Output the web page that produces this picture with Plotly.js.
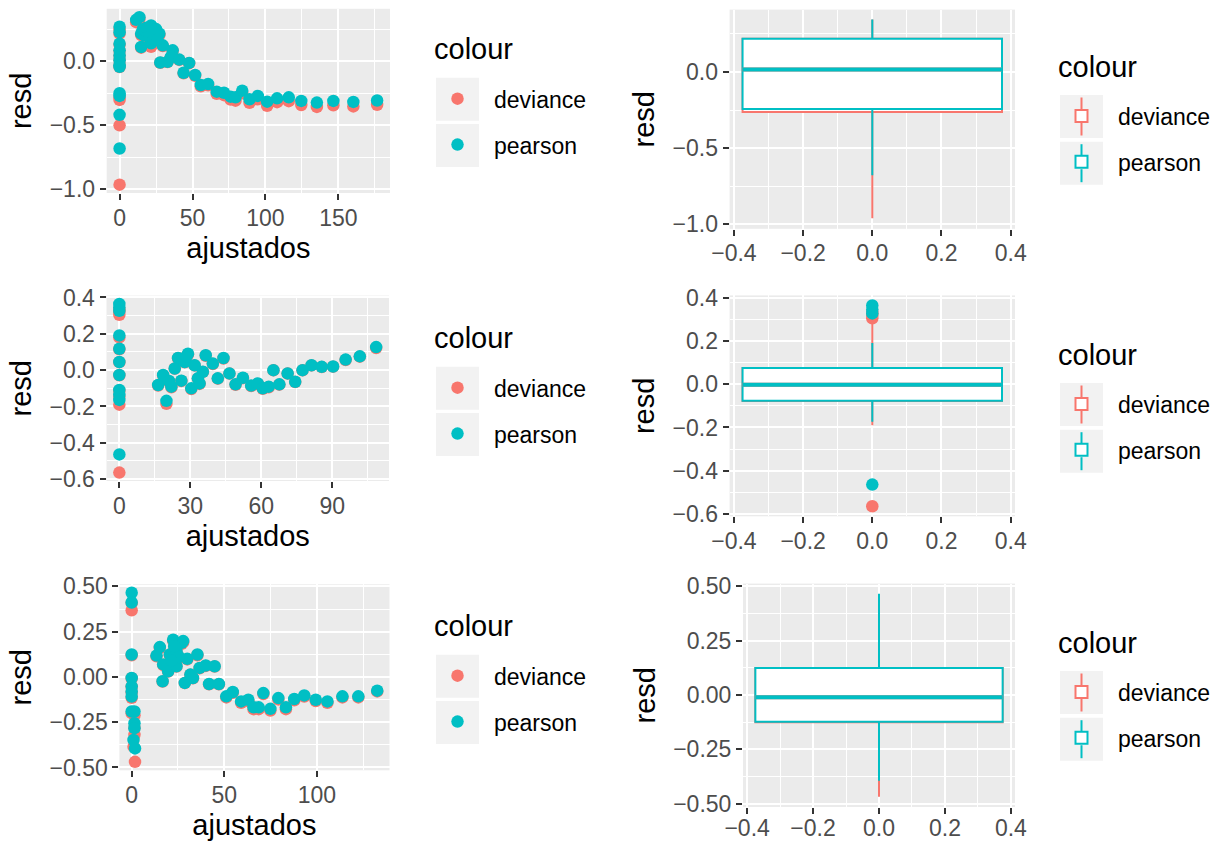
<!DOCTYPE html>
<html><head><meta charset="utf-8">
<script src="https://cdn.plot.ly/plotly-3.0.1.min.js"></script>
<style>html,body{margin:0;padding:0;background:#fff}#chart{width:1220px;height:841px}</style>
</head><body><div id="chart"></div>
<script>
// ---------- DATA ----------
const seriesNames = ['deviance', 'pearson'];
const seriesColors = ['#F8766D', '#00BFC4'];
const legendTitle = 'colour';

// Panel 1 (top): fitted values and residuals
const ajustados1 = [0,0,0,0,0,0,0,0,0,0,0,0, 11.4,13.6,21.6,14.8,17.1,14.8,19.4,21.6,25.0,27.3,29.6,27.9,32.9,36.4,35.2,40.9,47.7,43.9,51.8,55.7,60.7,66.6,71.6,76.1,79.5,84.1,89.1,94.8,101.2,108.0,116.0,124.6,135.3,146.6,160.3,176.6, 16.0,18.3,20.5,23.0,22.5,26.0];
const pearson1 = [0.270,0.227,0.137,0.085,0.045,0.008,-0.031,-0.044,-0.250,-0.271,-0.419,-0.682, 0.323,0.344,0.279,0.215,0.200,0.111,0.229,0.140,0.251,0.215,0.124,-0.010,-0.005,0.085,0.033,0.013,-0.013,-0.090,-0.108,-0.186,-0.178,-0.238,-0.246,-0.277,-0.282,-0.230,-0.297,-0.271,-0.316,-0.290,-0.282,-0.310,-0.323,-0.310,-0.318,-0.307, 0.250,0.262,0.190,0.170,0.232,0.170];
const deviance1 = [0.250,0.215,0.130,0.082,0.044,0.008,-0.032,-0.046,-0.280,-0.302,-0.501,-0.964, 0.305,0.330,0.268,0.205,0.192,0.106,0.220,0.112,0.240,0.205,0.118,-0.012,-0.007,0.080,0.030,0.010,-0.016,-0.095,-0.114,-0.196,-0.188,-0.255,-0.265,-0.300,-0.308,-0.250,-0.325,-0.298,-0.348,-0.320,-0.312,-0.343,-0.357,-0.344,-0.353,-0.341, 0.240,0.252,0.182,0.162,0.222,0.162];

// Panel 2 (middle)
const ajustados2 = [0,0,0,0,0,0,0,0,0,0,0, 16.4,18.5,19.9,22.0,23.4,24.8,26.2,27.6,29.0,30.4,31.8,33.2,33.9,36.5,35.3,39.5,41.6,44.0,46.5,49.1,52.2,55.7,58.5,60.6,63.1,65.1,67.6,71.1,74.3,77.4,81.2,85.5,90.3,95.6,101.6,108.5, 26.8,28.3,21.0];
const pearson2 = [0.364,0.345,0.327,0.191,0.118,0.045,-0.027,-0.109,-0.136,-0.164,-0.464, -0.082,-0.027,-0.169,-0.091,0.009,0.067,-0.058,0.045,0.090,-0.100,0.027,-0.045,-0.073,0.082,-0.009,0.036,-0.045,0.067,-0.018,-0.078,-0.042,-0.085,-0.073,-0.100,-0.091,0.000,-0.078,-0.018,-0.064,0.000,0.027,0.018,0.020,0.058,0.076,0.127, 0.060,0.075,-0.060];
const deviance2 = [0.335,0.320,0.305,0.180,0.115,0.044,-0.028,-0.115,-0.145,-0.190,-0.564, -0.085,-0.029,-0.185,-0.094,0.008,0.065,-0.060,0.043,0.087,-0.104,0.026,-0.047,-0.076,0.079,-0.010,0.034,-0.047,0.064,-0.019,-0.081,-0.044,-0.088,-0.076,-0.103,-0.094,-0.001,-0.080,-0.019,-0.066,-0.001,0.026,0.017,0.019,0.056,0.074,0.122, 0.058,0.073,-0.062];

// Panel 3 (bottom)
const ajustados3 = [0,0,0,0,0,0,0,0,1.5,1.5,1.5,1.0,1.8, 13.4,15.2,17.0,16.7,19.7,20.6,22.4,24.2,24.2,27.0,27.8,28.7,30.0,31.7,33.1,35.5,36.7,40.0,41.8,44.8,47.1,51.1,54.6,59.1,63.0,65.8,68.6,71.1,74.9,79.2,83.3,87.8,93.2,99.4,105.7,113.8,122.4,132.6, 23.0,25.5,21.5];
const pearson3 = [0.465,0.411,0.124,-0.006,-0.052,-0.080,-0.108,-0.191,-0.191,-0.256,-0.283,-0.348,-0.395, 0.118,0.165,0.069,-0.024,0.031,0.124,0.206,0.059,0.142,0.189,0.198,-0.033,0.100,0.013,-0.006,0.124,0.050,0.063,-0.039,0.059,-0.039,-0.107,-0.083,-0.135,-0.126,-0.168,-0.168,-0.089,-0.176,-0.117,-0.168,-0.122,-0.102,-0.126,-0.135,-0.107,-0.107,-0.076, 0.170,0.110,0.090];
const deviance3 = [0.408,0.368,0.120,-0.007,-0.055,-0.085,-0.115,-0.200,-0.212,-0.280,-0.320,-0.385,-0.469, 0.114,0.160,0.066,-0.025,0.030,0.120,0.200,0.057,0.137,0.183,0.192,-0.034,0.097,0.012,-0.007,0.120,0.048,0.061,-0.041,0.057,-0.041,-0.113,-0.088,-0.143,-0.134,-0.178,-0.178,-0.094,-0.186,-0.124,-0.178,-0.129,-0.108,-0.133,-0.143,-0.113,-0.113,-0.080, 0.165,0.106,0.087];

// Boxplot statistics: [deviance, pearson]
const box4_q1 = [-0.263, -0.243], box4_median = [0.016, 0.016], box4_q3 = [0.218, 0.218], box4_lower = [-0.960, -0.678], box4_upper = [0.344, 0.344];
const box5_q1 = [-0.078, -0.076], box5_median = [-0.003, -0.003], box5_q3 = [0.075, 0.075], box5_lower = [-0.190, -0.173], box5_upper = [0.280, 0.191];
const box6_q1 = [-0.126, -0.124], box6_median = [-0.011, -0.011], box6_q3 = [0.123, 0.123], box6_lower = [-0.469, -0.395], box6_upper = [0.408, 0.465];
const box4_outliers = [[], []];
const box5_outliers = [[0.305, 0.320, 0.335, -0.564], [0.327, 0.345, 0.364, -0.464]];
const box6_outliers = [[], []];
const BOX_X = 0, BOX_WIDTH = 0.75;

// ---------- LAYOUT HELPERS ----------
const W = 1220, H = 841;
const FONT = 'Liberation Sans, Arial, Helvetica, sans-serif';
const px = (a, b) => [a / W, b / W];
const py = (top, bottom) => [1 - bottom / H, 1 - top / H];
function expand(arrs, mult) {
  const all = [].concat(...arrs);
  const mn = Math.min(...all), mx = Math.max(...all), s = (mx - mn) * mult;
  return [mn - s, mx + s];
}
const axBase = {
  showline: false, zeroline: false, ticks: 'outside', ticklen: 6, tickwidth: 2, tickcolor: '#333333',
  tickfont: {size: 23, color: '#4D4D4D', family: FONT}, showgrid: true, gridcolor: '#FFFFFF', gridwidth: 2,
  layer: 'below traces', fixedrange: true, automargin: false
};
function axis(domain, range, dtick, fmt, title, anchor, standoff, labelShift) {
  const a = Object.assign({}, axBase, {
    domain: domain, range: range, tickmode: 'linear', tick0: 0, dtick: dtick, anchor: anchor,
    minor: {tickmode: 'linear', tick0: 0, dtick: dtick / 2, showgrid: true, gridcolor: '#FFFFFF', gridwidth: 1, ticks: ''}
  });
  if (labelShift) a.ticklabelstandoff = labelShift;
  if (fmt) a.tickformat = fmt;
  if (title) a.title = {text: title, font: {size: 29, color: '#000000', family: FONT}, standoff: standoff};
  return a;
}

// ---------- TRACES ----------
const traces = [];
function addBoxes(n, q1, med, q3, lo, up, outl) {
  const xa = 'x' + n, ya = 'y' + n;
  seriesNames.forEach((s, i) => {
    traces.push({type: 'box', x: [BOX_X], q1: [q1[i]], median: [med[i]], q3: [q3[i]], lowerfence: [lo[i]], upperfence: [up[i]],
      width: BOX_WIDTH, fillcolor: '#FFFFFF', line: {color: seriesColors[i], width: 2}, whiskerwidth: 0, boxpoints: false,
      name: s, xaxis: xa, yaxis: ya, legend: 'legend' + n, legendgroup: s + n, hoverinfo: 'skip'});
  });
  seriesNames.forEach((s, i) => {
    traces.push({type: 'scatter', mode: 'lines', x: [BOX_X - BOX_WIDTH / 2, BOX_X + BOX_WIDTH / 2], y: [med[i], med[i]],
      line: {color: seriesColors[i], width: 4}, showlegend: false, xaxis: xa, yaxis: ya, hoverinfo: 'skip'});
  });
  seriesNames.forEach((s, i) => {
    if (!outl[i].length) return;
    traces.push({type: 'scatter', mode: 'markers', x: outl[i].map(() => BOX_X), y: outl[i],
      marker: {color: seriesColors[i], size: 12.5, line: {width: 0}}, showlegend: false, xaxis: xa, yaxis: ya, hoverinfo: 'skip'});
  });
}
addBoxes(4, box4_q1, box4_median, box4_q3, box4_lower, box4_upper, box4_outliers);
addBoxes(5, box5_q1, box5_median, box5_q3, box5_lower, box5_upper, box5_outliers);
addBoxes(6, box6_q1, box6_median, box6_q3, box6_lower, box6_upper, box6_outliers);

function addScatter(n, xs, dev, pear) {
  const suffix = n === 1 ? '' : String(n);
  [dev, pear].forEach((ys, i) => {
    traces.push({type: 'scatter', mode: 'markers', x: xs, y: ys, name: seriesNames[i],
      marker: {color: seriesColors[i], size: 12.5, line: {width: 0}},
      xaxis: 'x' + suffix, yaxis: 'y' + suffix, legend: 'legend' + suffix, legendgroup: seriesNames[i] + n, hoverinfo: 'skip'});
  });
}
addScatter(1, ajustados1, deviance1, pearson1);
addScatter(2, ajustados2, deviance2, pearson2);
addScatter(3, ajustados3, deviance3, pearson3);

// ---------- AXES ----------
const yr1 = expand([deviance1, pearson1], 0.05), yr2 = expand([deviance2, pearson2], 0.05), yr3 = expand([deviance3, pearson3], 0.05);
const xr1 = expand([ajustados1], 0.05), xr2 = expand([ajustados2], 0.05), xr3 = expand([ajustados3], 0.05);
const xrBox = [BOX_X - BOX_WIDTH / 2 - BOX_WIDTH * 0.05, BOX_X + BOX_WIDTH / 2 + BOX_WIDTH * 0.05];

const XS = 8, YS = 9;
const layout = {
  width: W, height: H, margin: {l: 0, r: 0, t: 0, b: 0, pad: 0},
  paper_bgcolor: '#FFFFFF', plot_bgcolor: '#EBEBEB', boxmode: 'overlay', showlegend: true,
  font: {family: FONT, color: '#000000'},
  xaxis: axis(px(106.7, 390), xr1, 50, null, 'ajustados', 'y', XS, -2),
  yaxis: axis(py(8.8, 193), yr1, 0.5, '.1f', 'resd', 'x', YS),
  xaxis2: axis(px(106.5, 389), xr2, 30, null, 'ajustados', 'y2', XS, -2),
  yaxis2: axis(py(295.6, 481), yr2, 0.2, '.1f', 'resd', 'x2', YS),
  xaxis3: axis(px(119.4, 389.5), xr3, 50, null, 'ajustados', 'y3', XS, -2),
  yaxis3: axis(py(584.3, 770.3), yr3, 0.25, '.2f', 'resd', 'x3', YS),
  xaxis4: axis(px(729.6, 1015), xrBox, 0.2, '.1f', null, 'y4', 0, -2),
  yaxis4: axis(py(9.6, 228.8), yr1, 0.5, '.1f', 'resd', 'x4', YS),
  xaxis5: axis(px(729.6, 1015), xrBox, 0.2, '.1f', null, 'y5', 0, -2),
  yaxis5: axis(py(295.4, 516.3), yr2, 0.2, '.1f', 'resd', 'x5', YS),
  xaxis6: axis(px(743, 1015), xrBox, 0.2, '.1f', null, 'y6', 0, -6),
  yaxis6: axis(py(583.6, 807), yr3, 0.25, '.2f', 'resd', 'x6', YS),
  shapes: [], annotations: []
};

// Legends: [key left px, key1 top px, key2 top px, has box glyph]
const legendPos = {
  legend:  [436, 77.7, 124, false],
  legend2: [436, 366.7, 413, false],
  legend3: [436, 654.7, 701, false],
  legend4: [1060, 95, 141.7, true],
  legend5: [1060, 383, 429.7, true],
  legend6: [1060, 671, 717.7, true]
};
const KEY = 43, ITEMW = 63, CENTER = (ITEMW + 10) / 2;
Object.keys(legendPos).forEach(k => {
  const [left, t1, t2, isBox] = legendPos[k];
  [t1, t2].forEach((t, i) => {
    layout.shapes.push({type: 'rect', xref: 'paper', yref: 'paper', layer: 'below',
      x0: left / W, x1: (left + KEY) / W, y0: 1 - (t + KEY) / H, y1: 1 - t / H, fillcolor: '#F2F2F2', line: {width: 0}});
    if (isBox) {
      const cx = (left + KEY / 2) / W, cy = t + KEY / 2;
      [[cy - 19, cy - 6], [cy + 6, cy + 19]].forEach(([a, b]) => layout.shapes.push({type: 'line', xref: 'paper', yref: 'paper', layer: 'below',
        x0: cx, x1: cx, y0: 1 - a / H, y1: 1 - b / H, line: {color: seriesColors[i], width: 2}}));
    }
  });
  layout.annotations.push({xref: 'paper', yref: 'paper', x: (left - 4) / W, y: 1 - (t1 - 28.5) / H, xanchor: 'left', yanchor: 'middle',
    text: legendTitle, showarrow: false, font: {size: 29, color: '#000000', family: FONT}});
  layout[k] = {
    x: (left + KEY / 2 - CENTER) / W, y: 1 - (t1 + KEY / 2 - 22) / H, xanchor: 'left', yanchor: 'top',
    bgcolor: 'rgba(0,0,0,0)', borderwidth: 0, itemwidth: ITEMW, tracegroupgap: 13, traceorder: 'grouped',
    font: {size: 23, color: '#000000', family: FONT}
  };
});

Plotly.newPlot('chart', traces, layout, {displayModeBar: false, staticPlot: true});
</script></body></html>
